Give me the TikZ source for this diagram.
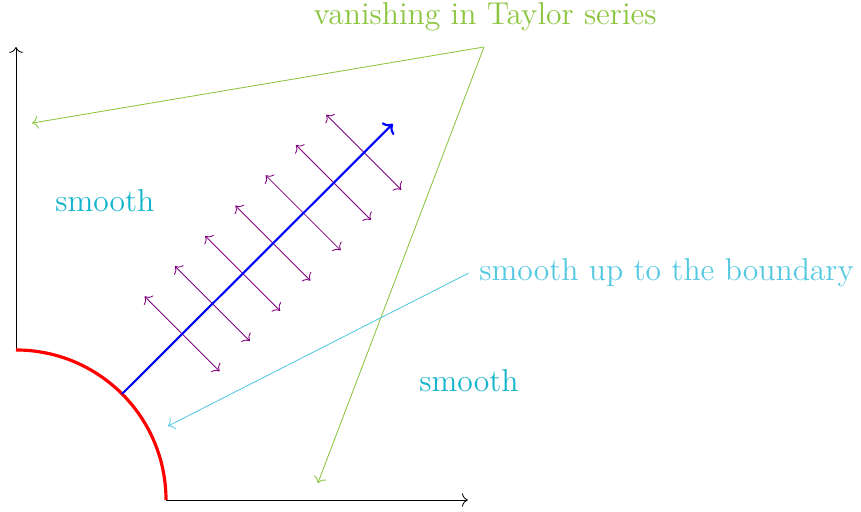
\documentclass[tikz,border=0pt]{standalone}
\usetikzlibrary{arrows.meta}
\definecolor{tgreen}{RGB}{140,198,64}
\definecolor{tcyan}{RGB}{20,180,205}
\definecolor{lcyan}{RGB}{85,200,225}
\definecolor{tviolet}{RGB}{128,0,128}
\newcommand{\bigtxt}[1]{\scalebox{2}{\fontsize{12}{14}\selectfont #1}}
\tikzset{
  lbl/.style={inner sep=8pt},
  tip/.tip={To[length=4.5pt,width=10pt]},
  bigtip/.tip={To[length=6pt,width=13pt]},
  axis/.style={-tip, black, line width=0.65pt},
  pv/.style={tip-tip, tviolet, line width=0.65pt},
  thin8/.style={-tip, line width=0.65pt},
}
\begin{document}
\begin{tikzpicture}[x=1cm,y=1cm]
\useasboundingbox (-0.4267,-0.32) rectangle (22.533,13.333);
% axes
\coordinate (v0) at (0,4);
\coordinate (v1) at (0,12.08);
\coordinate (h0) at (4,0);
\coordinate (h1) at (12.05,0);
\draw[axis] (v0) -- (v1);
\draw[axis] (h0) -- (h1);
% red arc
\draw[red, line width=2.4pt] (v0) arc[start angle=90, end angle=0, radius=4];
% purple arrows
\foreach \k in {0,...,6}{
  \pgfmathsetmacro{\c}{4.43+0.807*\k}
  \coordinate (pa\k) at (\c-1,\c+1);
  \coordinate (pb\k) at (\c+1,\c-1);
  \draw[pv] (pa\k) -- (pb\k);
}
% blue arrow
\coordinate (b0) at (45:4);
\coordinate (b1) at (10.05,10.03);
\draw[-bigtip, blue, line width=1.6pt] (b0) -- (b1);
% labels
\node[lbl, tcyan] (s1) at (2.37,7.97) {\bigtxt{smooth}};
\node[lbl, tcyan] (s2) at (12.08,3.17) {\bigtxt{smooth}};
\node[lbl, tgreen, anchor=base] (vt) at (12.51,12.69) {\bigtxt{vanishing in Taylor series}};
\node[lbl, lcyan, anchor=west] (sb) at (12.07,6.05) {\bigtxt{smooth up to the boundary}};
% green connectors
\coordinate (g) at (12.48,12.08);
\coordinate (g1) at (0.43,10.05);
\coordinate (g2) at (8.05,0.45);
\draw[thin8, tgreen] (g) -- (g1);
\draw[thin8, tgreen] (g) -- (g2);
% cyan connector
\coordinate (c1) at (4.05,1.97);
\draw[thin8, lcyan] (sb.west) -- (c1);
\end{tikzpicture}
\end{document}
